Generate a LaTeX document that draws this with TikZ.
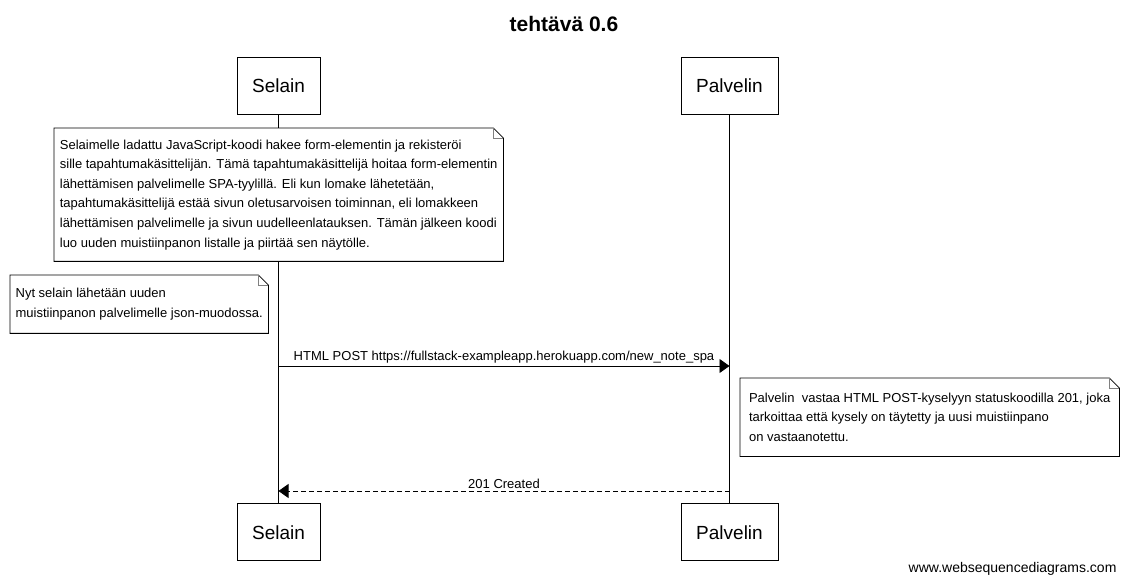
\documentclass[tikz,border=0pt]{standalone}
\usepackage{fontspec}
\setmainfont{Liberation Sans}
\usetikzlibrary{arrows.meta,positioning}

\tikzset{
  actor/.style={draw, fill=white, line width=0.8pt, minimum height=57pt, inner sep=0pt,
    font=\fontsize{19}{21}\selectfont},
  note/.style={fill=white, inner sep=0pt, align=left, anchor=north west,
    font=\fontsize{13}{19.6}\selectfont},
  lifeline/.style={line width=0.8pt},
  msg/.style={line width=0.8pt, -{Triangle[length=10pt,width=14pt]}},
  reply/.style={msg, dash pattern=on 5pt off 3pt},
  msglabel/.style={above, inner sep=2pt, font=\fontsize{13}{15}\selectfont}
}

% outline of a note with a folded corner
\newcommand{\drawnote}[1]{%
  \draw[line width=0.8pt] (#1.south west) -- (#1.north west)
    -- ([xshift=-10pt]#1.north east) -- ([yshift=-10pt]#1.north east)
    -- (#1.south east) -- cycle;
  \draw[line width=0.8pt, gray] ([xshift=-10pt]#1.north east)
    |- ([yshift=-10pt]#1.north east);
}

\begin{document}
\begin{tikzpicture}[x=1pt, y=-1pt]
  \useasboundingbox (0,0) rectangle (1128,585);
    % Title
    \node[font=\bfseries\fontsize{21}{23}\selectfont] (title) at (564,24) {tehtävä 0.6};
    % Top Row Actors
    \node[actor, minimum width=83pt] (selain) at (278.5,85.5) {Selain};
    \node[actor, minimum width=97pt] (palvelin) at (729.5,85.5) {Palvelin};
    % Bottom Row Actors
    \node[actor, minimum width=83pt, below=389pt of selain] (selain-b) {Selain};
    \node[actor, minimum width=97pt, below=389pt of palvelin] (palvelin-b) {Palvelin};
    % Lifelines
    \draw[lifeline] (selain) -- (selain-b);
    \draw[lifeline] (palvelin) -- (palvelin-b);
    % Notes
    \node[note, minimum width=449pt, minimum height=133pt] (note-js) at (54,128)
      {Selaimelle ladattu JavaScript-koodi hakee form-elementin ja rekisteröi\\
       sille tapahtumakäsittelijän. Tämä tapahtumakäsittelijä hoitaa form-elementin\\
       lähettämisen palvelimelle SPA-tyylillä. Eli kun lomake lähetetään,\\
       tapahtumakäsittelijä estää sivun oletusarvoisen toiminnan, eli lomakkeen\\
       lähettämisen palvelimelle ja sivun uudelleenlatauksen. Tämän jälkeen koodi\\
       luo uuden muistiinpanon listalle ja piirtää sen näytölle.};
    \drawnote{note-js}
    \node[note, minimum width=258pt, minimum height=58pt] (note-json) at (10,275)
      {Nyt selain lähetään uuden\\
       muistiinpanon palvelimelle json-muodossa.};
    \drawnote{note-json}
    \node[note, minimum width=379pt, minimum height=78pt] (note-201) at (740,378)
      {Palvelin\ \ vastaa HTML POST-kyselyyn statuskoodilla 201, joka\\
       tarkoittaa että kysely on täytetty ja uusi muistiinpano\\
       on vastaanotettu.};
    \drawnote{note-201}
    % Messages
    \coordinate (post-level) at (0,366);
    \coordinate (created-level) at (0,491);
    \draw[msg] (selain |- post-level) -- (palvelin |- post-level)
      node[msglabel, midway] {HTML POST https://fullstack-exampleapp.herokuapp.com/new\_note\_spa};
    \draw[reply] (palvelin |- created-level) -- (selain |- created-level)
      node[msglabel, midway] {201 Created};
    % Footer
    \node[anchor=east, font=\fontsize{14}{16}\selectfont] (footer) at (1120,569) {www.websequencediagrams.com};
\end{tikzpicture}
\end{document}
